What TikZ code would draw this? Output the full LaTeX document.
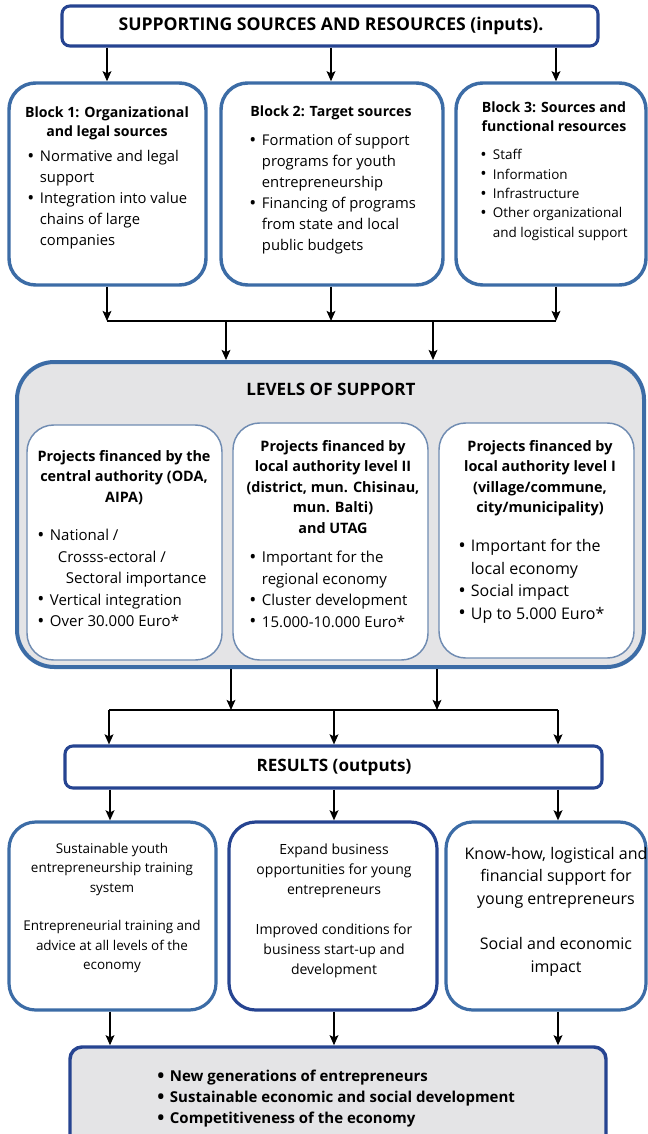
\documentclass[tikz,border=0pt]{standalone}
\usepackage{fontspec}
\setmainfont{Open Sans}
\usetikzlibrary{arrows.meta,calc}
\definecolor{navy}{RGB}{38,68,145}
\definecolor{steel}{RGB}{60,108,166}
\definecolor{pale}{RGB}{112,140,178}
\definecolor{panel}{RGB}{228,228,230}
\newcommand\fs[2]{\fontsize{#1}{#2}\selectfont}
\newcommand\bl[1]{\makebox[9.5pt][l]{\raisebox{-0.1ex}{\scalebox{1.25}{\textbullet}}}#1}
\newcommand\cn[1]{\hspace*{9.5pt}#1}
% box node spanning (x1,y1)-(x2,y2), coordinates in pixels, y downwards
\newcommand\panelbox[6]{\node[#6, minimum width={(#4-#2)*0.75pt}, minimum height={(#5-#3)*0.75pt}] (#1) at ({(#2+#4)/2},{(#3+#5)/2}) {};}
\begin{document}
\begin{tikzpicture}[x=0.75pt,y=-0.75pt,
  hbox/.style={draw=navy, line width=2.3pt, rounded corners=6pt, fill=white, inner sep=0},
  block/.style={draw=steel, line width=2.6pt, rounded corners=20pt, fill=white, inner sep=0},
  lvl/.style={draw=steel, line width=3pt, rounded corners=28pt, fill=panel, inner sep=0},
  sub/.style={draw=pale, line width=1.1pt, rounded corners=20pt, fill=white, inner sep=0},
  outb/.style={draw=steel, line width=2.4pt, rounded corners=20pt, fill=white, inner sep=0},
  outd/.style={draw=navy, line width=2.4pt, rounded corners=20pt, fill=white, inner sep=0},
  goal/.style={draw=navy, line width=2.6pt, rounded corners=9pt, fill=panel, inner sep=0},
  txt/.style={inner sep=0, anchor=north, align=center},
  lst/.style={inner sep=0, anchor=north west, align=left},
  arr/.style={-{Stealth[length=7.5pt,width=6.5pt,inset=1.5pt]}, line width=1.5pt, black},
  bus/.style={line width=1.8pt, black}]
\useasboundingbox (0,0) rectangle (648,1134);

% ---------- inputs ----------
\panelbox{top}{62}{6}{598}{46}{hbox}
\node[inner sep=0, font=\fs{13.2}{15}\bfseries] (toptxt) at (331,26) {SUPPORTING SOURCES AND RESOURCES (inputs).};

\panelbox{b1}{9}{83}{206}{285}{block}
\panelbox{b2}{221}{83}{443}{285}{block}
\panelbox{b3}{456}{83}{646}{285}{block}

\node[txt, font=\fs{10.6}{14.5}\bfseries] (b1t) at (107,106) {Block 1: Organizational\\ and legal sources};
\node[lst, font=\fs{11.1}{15.75}] (b1l) at (27,150) {\bl{Normative and legal}\\ \cn{support}\\ \bl{Integration into value}\\ \cn{chains of large}\\ \cn{companies}};

\node[txt, font=\fs{10.6}{14.5}\bfseries] (b2t) at (331,105) {Block 2: Target sources};
\node[lst, font=\fs{11.1}{15.75}] (b2l) at (249,134) {\bl{Formation of support}\\ \cn{programs for youth}\\ \cn{entrepreneurship}\\ \bl{Financing of programs}\\ \cn{from state and local}\\ \cn{public budgets}};

\node[txt, font=\fs{10.6}{14.5}\bfseries] (b3t) at (554,101) {Block 3: Sources and\\ functional resources};
\node[lst, font=\fs{10.1}{14.6}] (b3l) at (480,149) {\bl{Staff}\\ \bl{Information}\\ \bl{Infrastructure}\\ \bl{Other organizational}\\ \cn{and logistical support}};

% column guides
\coordinate (xa) at (107,0);
\coordinate (xb) at (331,0);
\coordinate (xc) at (556,0);
\draw[arr] (top.south -| xa) -- (b1.north -| xa);
\draw[arr] (top.south -| xb) -- (b2.north -| xb);
\draw[arr] (top.south -| xc) -- (b3.north -| xc);

\coordinate (j1) at (107,321);
\coordinate (j2) at (331,321);
\coordinate (j3) at (556,321);
\draw[arr] (b1.south -| j1) -- (j1);
\draw[arr] (b2.south -| j2) -- (j2);
\draw[arr] (b3.south -| j3) -- (j3);
\draw[bus] (j1) -- (j3);

% ---------- levels of support ----------
\panelbox{lev}{17}{362}{644}{667}{lvl}
\coordinate (s1) at (226,321);
\coordinate (s2) at (433,321);
\draw[arr] (s1) -- (lev.north -| s1);
\draw[arr] (s2) -- (lev.north -| s2);

\node[inner sep=0, font=\fs{12.8}{15}\bfseries] (levt) at (331,389) {LEVELS OF SUPPORT};

\panelbox{i1}{27}{425}{222}{660}{sub}
\panelbox{i2}{233}{423}{428}{660}{sub}
\panelbox{i3}{439}{423}{634}{658}{sub}

\node[txt, font=\fs{10.8}{15.4}\bfseries] (i1t) at (124,450) {Projects financed by the\\ central authority (ODA,\\ AIPA)};
\node[lst, font=\fs{11.25}{16.1}] (i1l) at (37,529) {\bl{National /}\\ \hspace*{15.5pt}Crosss-ectoral /\\ \hspace*{21.5pt}Sectoral importance\\ \bl{Vertical integration}\\ \bl{Over 30.000 Euro*}};

\node[txt, font=\fs{10.8}{15.4}\bfseries] (i2t) at (333,440) {Projects financed by\\ local authority level II\\ (district, mun. Chisinau,\\ mun. Balti)\\ and UTAG};
\node[lst, font=\fs{11.25}{16.1}] (i2l) at (249,551) {\bl{Important for the}\\ \cn{regional economy}\\ \bl{Cluster development}\\ \bl{15.000-10.000 Euro*}};

\node[txt, font=\fs{10.8}{15.4}\bfseries] (i3t) at (540,440) {Projects financed by\\ local authority level I\\ (village/commune,\\ city/municipality)};
\node[lst, font=\fs{12}{16.9}] (i3l) at (458,539) {\bl{Important for the}\\ \cn{local economy}\\ \bl{Social impact}\\ \bl{Up to 5.000 Euro*}};

% ---------- results ----------
\coordinate (k1) at (231,710);
\coordinate (k2) at (437,710);
\draw[arr] (lev.south -| k1) -- (k1);
\draw[arr] (lev.south -| k2) -- (k2);

\panelbox{res}{65}{746}{602}{788}{hbox}
\node[inner sep=0, font=\fs{12.8}{15}\bfseries] (rest) at (334,767) {RESULTS (outputs)};

\coordinate (r1) at (109,710);
\coordinate (r2) at (334,710);
\coordinate (r3) at (558,710);
\draw[bus] (r1) -- (r3);
\draw[arr] (r1) -- (res.north -| r1);
\draw[arr] (r2) -- (res.north -| r2);
\draw[arr] (r3) -- (res.north -| r3);

\panelbox{o1}{9}{822}{216}{1010}{outb}
\panelbox{o2}{229}{822}{437}{1010}{outd}
\panelbox{o3}{446}{822}{646}{1010}{outb}

\coordinate (q1) at (110,0);
\coordinate (q2) at (334,0);
\coordinate (q3) at (558,0);
\draw[arr] (res.south -| q1) -- (o1.north -| q1);
\draw[arr] (res.south -| q2) -- (o2.north -| q2);
\draw[arr] (res.south -| q3) -- (o3.north -| q3);

\node[txt, font=\fs{10.1}{14.5}] (o1t) at (112,843) {Sustainable youth\\ entrepreneurship training\\ system\\[14.5pt] Entrepreneurial training and\\ advice at all levels of the\\ economy};
\node[txt, font=\fs{10.5}{15}] (o2t) at (334,844) {Expand business\\ opportunities for young\\ entrepreneurs\\[15pt] Improved conditions for\\ business start-up and\\ development};
\node[txt, font=\fs{12}{16.9}] (o3t) at (556,847) {Know-how, logistical and\\ financial support for\\ young entrepreneurs\\[16.9pt] Social and economic\\ impact};

% ---------- outcomes ----------
\panelbox{fin}{70}{1047}{606}{1150}{goal}
\draw[arr] (o1.south -| q1) -- (fin.north -| q1);
\draw[arr] (o2.south -| q2) -- (fin.north -| q2);
\draw[arr] (o3.south -| q3) -- (fin.north -| q3);

\node[lst, font=\fs{11.25}{15.75}\bfseries] (fint) at (157,1070) {\bl{New generations of entrepreneurs}\\ \bl{Sustainable economic and social development}\\ \bl{Competitiveness of the economy}};
\end{tikzpicture}
\end{document}
